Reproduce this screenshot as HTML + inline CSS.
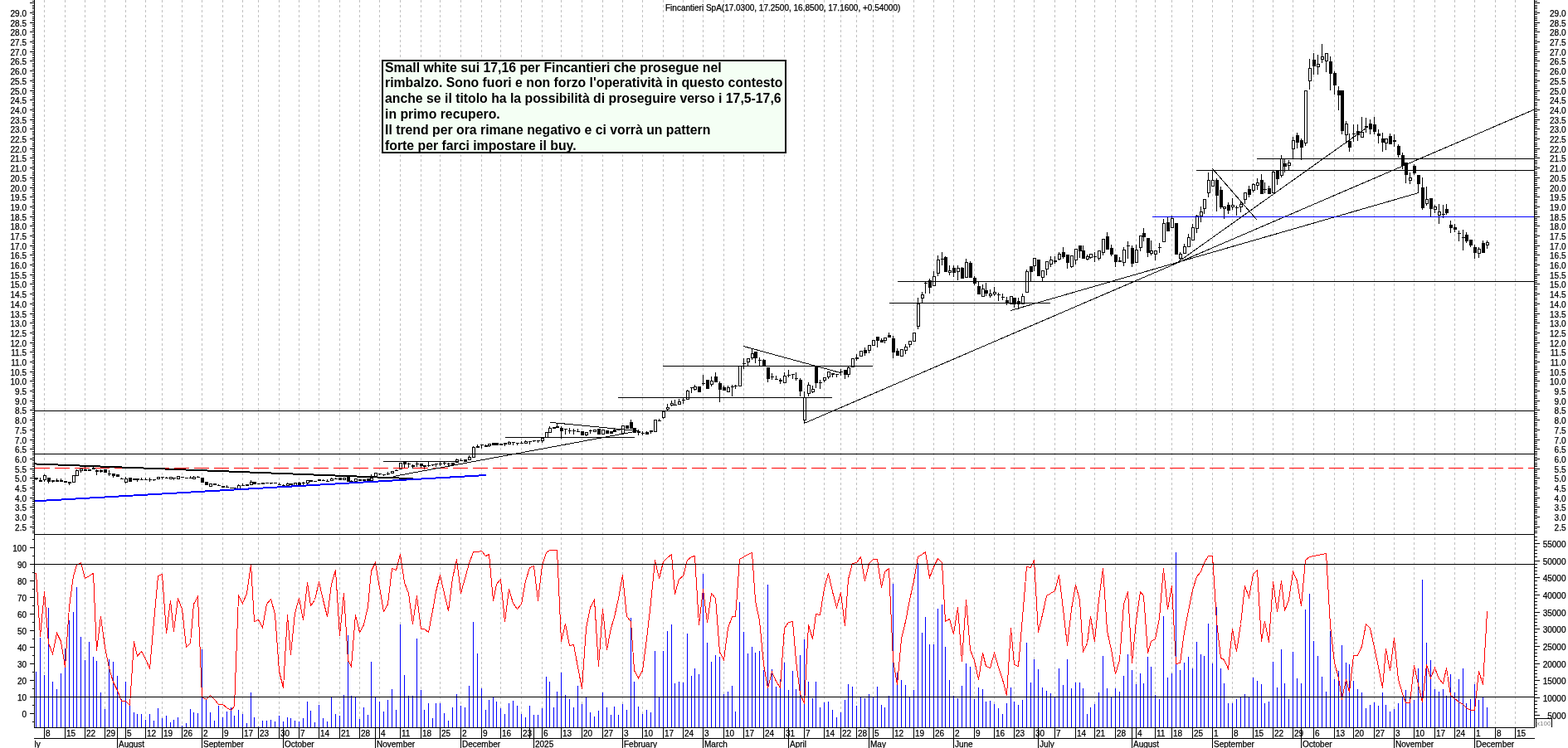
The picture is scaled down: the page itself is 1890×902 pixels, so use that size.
<!DOCTYPE html><html><head><meta charset="utf-8"><style>html,body{margin:0;padding:0;background:#fff;width:1890px;height:902px;overflow:hidden}</style></head><body>
<svg width="1890" height="902" viewBox="0 0 1890 902" shape-rendering="crispEdges" style="position:absolute;left:0;top:0">
<rect x="0" y="0" width="1890" height="902" fill="#fff"/>
<path d="M53.5 0V877M78.5 0V877M102.5 0V877M126.5 0V877M151.5 0V877M175.5 0V877M195.5 0V877M219.5 0V877M243.5 0V877M268.5 0V877M292.5 0V877M311.5 0V877M336.5 0V877M360.5 0V877M384.5 0V877M409.5 0V877M433.5 0V877M457.5 0V877M482.5 0V877M507.5 0V877M530.5 0V877M555.5 0V877M580.5 0V877M603.5 0V877M628.5 0V877M653.5 0V877M676.5 0V877M701.5 0V877M726.5 0V877M750.5 0V877M774.5 0V877M799.5 0V877M823.5 0V877M847.5 0V877M872.5 0V877M896.5 0V877M920.5 0V877M945.5 0V877M969.5 0V877M993.5 0V877M1013.5 0V877M1032.5 0V877M1052.5 0V877M1076.5 0V877M1101.5 0V877M1125.5 0V877M1149.5 0V877M1174.5 0V877M1198.5 0V877M1222.5 0V877M1246.5 0V877M1271.5 0V877M1296.5 0V877M1319.5 0V877M1344.5 0V877M1369.5 0V877M1392.5 0V877M1412.5 0V877M1437.5 0V877M1461.5 0V877M1485.5 0V877M1510.5 0V877M1534.5 0V877M1558.5 0V877M1583.5 0V877M1608.5 0V877M1631.5 0V877M1656.5 0V877M1680.5 0V877M1704.5 0V877M1729.5 0V877M1753.5 0V877M1777.5 0V877M1802.5 0V877M1826.5 0V877" stroke="#c0c0c0" stroke-width="1" stroke-dasharray="3 3" fill="none"/>
<text x="802" y="13" font-family="Liberation Sans, Arial, sans-serif" font-size="10" fill="#000" stroke="#000" stroke-width="0.25">Fincantieri SpA(17.0300, 17.2500, 16.8500, 17.1600, +0.54000)</text>
<g shape-rendering="crispEdges"><path d="M43.5 576V579M48.5 576V581M53.5 572V581M58.5 576V583M63.5 579V582M68.5 577V581M73.5 577V581M78.5 580V582M83.5 581V585M88.5 573V582M92.5 566V574M97.5 565V570M102.5 563V568M107.5 566V568M112.5 563V566M116.5 566V573M121.5 566V570M126.5 566V570M131.5 567V574M136.5 571V576M141.5 572V575M146.5 576V578M151.5 575V583M156.5 576V581M161.5 577V579M165.5 577V581M170.5 576V579M175.5 576V579M180.5 576V581M185.5 578V580M190.5 575V578M195.5 575V578M200.5 575V577M205.5 575V578M209.5 576V579M214.5 574V578M219.5 575V576M224.5 576V577M229.5 574V577M233.5 574V578M238.5 574V576M243.5 576V582M248.5 581V585M253.5 583V587M258.5 583V585M263.5 584V586M268.5 586V588M273.5 585V588M278.5 588V589M282.5 588V589M287.5 584V590M292.5 583V586M297.5 584V586M302.5 579V585M306.5 581V584M311.5 583V584M316.5 582V584M321.5 582V583M326.5 582V584M331.5 582V583M336.5 582V585M341.5 584V586M346.5 582V586M350.5 583V585M355.5 582V586M360.5 581V586M365.5 581V585M370.5 579V585M374.5 579V581M379.5 580V581M384.5 578V580M389.5 578V580M394.5 578V581M399.5 576V580M404.5 576V578M409.5 576V579M414.5 576V579M419.5 574V581M423.5 579V581M428.5 577V581M433.5 578V580M438.5 578V580M443.5 577V581M447.5 572V580M452.5 570V575M457.5 571V573M462.5 572V574M467.5 569V573M472.5 568V571M477.5 566V568M482.5 558V566M487.5 557V564M492.5 558V564M497.5 560V565M502.5 557V563M507.5 559V565M511.5 561V566M516.5 557V563M521.5 560V562M525.5 559V563M530.5 557V562M535.5 557V561M540.5 558V562M545.5 558V561M550.5 553V558M555.5 553V556M560.5 554V557M565.5 549V555M570.5 538V552M575.5 536V540M580.5 536V541M585.5 536V539M589.5 535V539M594.5 534V537M598.5 534V537M603.5 535V537M608.5 534V538M613.5 532V536M618.5 533V537M623.5 534V537M628.5 532V535M633.5 531V535M638.5 532V536M643.5 531V533M648.5 531V534M653.5 528V534M658.5 521V528M662.5 514V522M667.5 515V517M671.5 511V516M676.5 514V529M681.5 517V524M686.5 516V523M691.5 517V524M696.5 517V521M701.5 520V525M706.5 521V526M711.5 518V523M716.5 518V521M721.5 517V524M726.5 518V524M731.5 519V523M736.5 520V523M740.5 516V521M745.5 517V519M750.5 513V523M755.5 513V517M760.5 506V517M764.5 516V522M769.5 518V525M774.5 520V525M779.5 520V524M784.5 519V523M789.5 506V521M794.5 505V508M799.5 496V505M804.5 487V496M809.5 483V490M813.5 482V489M818.5 481V488M823.5 480V487M828.5 470V482M833.5 467V474M837.5 464V471M842.5 466V473M847.5 452V465M852.5 458V469M857.5 454V466M862.5 449V461M867.5 460V485M872.5 465V471M877.5 465V473M882.5 464V478M886.5 464V469M891.5 441V466M896.5 432V445M901.5 432V442M906.5 421V434M910.5 424V438M915.5 431V442M920.5 433V442M925.5 443V461M930.5 450V458M935.5 453V458M940.5 456V463M945.5 449V462M950.5 446V455M955.5 451V457M959.5 449V459M964.5 456V478M969.5 472V511M974.5 461V478M979.5 465V474M983.5 441V468M988.5 458V469M993.5 455V461M998.5 448V457M1003.5 450V455M1008.5 451V455M1013.5 445V453M1018.5 446V457M1022.5 442V455M1027.5 432V443M1032.5 427V435M1037.5 423V430M1042.5 419V429M1047.5 416V426M1052.5 410V417M1057.5 406V419M1062.5 408V413M1066.5 407V414M1071.5 401V407M1076.5 405V432M1081.5 420V429M1086.5 421V430M1091.5 415V427M1096.5 411V419M1101.5 401V412M1106.5 359V397M1111.5 352V365M1115.5 339V354M1120.5 336V354M1125.5 327V345M1130.5 308V333M1135.5 304V320M1139.5 309V328M1144.5 320V332M1149.5 320V334M1154.5 320V338M1159.5 322V336M1164.5 312V335M1169.5 315V335M1174.5 333V344M1179.5 340V355M1184.5 343V358M1188.5 341V357M1193.5 349V359M1198.5 346V357M1203.5 353V363M1208.5 354V362M1213.5 358V368M1218.5 357V367M1222.5 359V371M1227.5 359V373M1232.5 354V367M1237.5 325V353M1242.5 321V340M1246.5 311V327M1251.5 313V333M1256.5 326V340M1261.5 315V332M1266.5 309V322M1271.5 309V318M1276.5 304V314M1281.5 298V312M1286.5 307V324M1291.5 308V323M1296.5 300V319M1301.5 296V311M1305.5 296V312M1310.5 307V314M1314.5 306V312M1319.5 304V316M1324.5 302V314M1329.5 288V308M1334.5 280V301M1339.5 295V309M1344.5 307V322M1349.5 310V316M1354.5 298V321M1359.5 291V312M1364.5 296V322M1369.5 295V317M1374.5 284V303M1378.5 275V291M1383.5 287V310M1387.5 290V308M1392.5 302V314M1397.5 293V305M1402.5 264V292M1407.5 261V279M1412.5 260V275M1417.5 269V307M1422.5 304V316M1427.5 294V306M1432.5 282V298M1437.5 270V290M1442.5 259V281M1447.5 249V268M1451.5 240V258M1456.5 208V238M1461.5 206V225M1466.5 215V255M1471.5 225V252M1475.5 249V264M1480.5 244V258M1485.5 239V253M1490.5 248V260M1495.5 242V256M1500.5 232V246M1505.5 224V238M1510.5 221V232M1515.5 215V229M1520.5 210V234M1524.5 220V233M1529.5 224V234M1534.5 206V233M1539.5 206V223M1544.5 187V214M1548.5 191V208M1553.5 193V206M1558.5 165V192M1563.5 160V179M1568.5 167V193M1573.5 109V176M1578.5 71V108M1583.5 64V90M1588.5 66V90M1593.5 53V76M1598.5 64V87M1603.5 68V109M1608.5 86V114M1613.5 104V133M1617.5 109V162M1622.5 146V173M1626.5 161V183M1631.5 150V171M1636.5 150V170M1641.5 141V166M1646.5 142V160M1651.5 144V162M1656.5 141V162M1661.5 156V173M1666.5 160V183M1670.5 167V181M1675.5 161V174M1680.5 162V177M1685.5 174V190M1690.5 184V204M1694.5 196V221M1699.5 208V222M1704.5 198V211M1709.5 211V233M1714.5 214V253M1719.5 225V248M1724.5 239V262M1729.5 247V257M1734.5 246V270M1739.5 247V263M1743.5 246V259M1748.5 266V281M1753.5 270V280M1758.5 278V291M1763.5 277V302M1767.5 280V293M1772.5 289V298M1777.5 295V312M1782.5 298V311M1787.5 290V305M1792.5 290V300" stroke="#000" stroke-width="1" fill="none"/><path d="M42 576H46V578H42ZM47 579H51V581H47ZM57 576H61V581H57ZM62 579H66V581H62ZM67 579H71V581H67ZM72 579H76V581H72ZM77 580H81V582H77ZM82 581H86V583H82ZM101 566H105V568H101ZM106 566H110V568H106ZM111 564H115V566H111ZM115 567H119V569H115ZM120 567H124V569H120ZM125 566H129V570H125ZM130 571H134V572H130ZM135 571H139V574H135ZM140 572H144V575H140ZM145 577H149V578H145ZM155 576H159V581H155ZM160 577H164V579H160ZM164 577H168V579H164ZM169 578H173V579H169ZM174 578H178V579H174ZM179 578H183V579H179ZM184 578H188V579H184ZM194 575H198V576H194ZM199 576H203V577H199ZM208 576H212V577H208ZM218 575H222V576H218ZM223 576H227V577H223ZM228 576H232V577H228ZM237 575H241V576H237ZM242 576H246V582H242ZM247 581H251V585H247ZM257 583H261V585H257ZM262 585H266V586H262ZM267 586H271V588H267ZM272 587H276V588H272ZM277 588H281V589H277ZM281 588H285V589H281ZM291 585H295V586H291ZM296 584H300V586H296ZM305 581H309V584H305ZM310 583H314V584H310ZM315 582H319V584H315ZM320 582H324V583H320ZM325 582H329V583H325ZM330 582H334V583H330ZM335 584H339V585H335ZM340 585H344V586H340ZM349 583H353V585H349ZM359 582H363V585H359ZM364 582H368V583H364ZM373 579H377V581H373ZM378 580H382V581H378ZM383 578H387V580H383ZM388 579H392V580H388ZM393 580H397V581H393ZM403 577H407V578H403ZM408 576H412V579H408ZM418 574H422V581H418ZM422 580H426V581H422ZM432 578H436V580H432ZM437 578H441V580H437ZM442 577H446V580H442ZM456 571H460V572H456ZM461 572H465V573H461ZM466 571H470V572H466ZM476 567H480V568H476ZM486 557H490V560H486ZM491 559H495V560H491ZM496 561H500V563H496ZM501 559H505V560H501ZM506 559H510V562H506ZM510 561H514V563H510ZM515 561H519V562H515ZM520 560H524V561H520ZM524 559H528V560H524ZM529 559H533V560H529ZM534 558H538V559H534ZM539 559H543V560H539ZM544 558H548V561H544ZM554 555H558V556H554ZM559 554H563V557H559ZM574 538H578V540H574ZM579 536H583V537H579ZM584 537H588V539H584ZM593 534H597V537H593ZM597 534H601V537H597ZM602 535H606V537H602ZM607 534H611V536H607ZM617 533H621V534H617ZM622 534H626V535H622ZM627 534H631V535H627ZM637 532H641V533H637ZM642 531H646V532H642ZM647 531H651V532H647ZM666 515H670V517H666ZM670 514H674V516H670ZM675 516H679V520H675ZM680 517H684V518H680ZM685 519H689V520H685ZM690 519H694V520H690ZM695 520H699V521H695ZM700 520H704V525H700ZM710 519H714V520H710ZM720 517H724V524H720ZM730 519H734V523H730ZM735 520H739V523H735ZM739 518H743V521H739ZM744 518H748V519H744ZM754 513H758V517H754ZM759 509H763V517H759ZM763 516H767V522H763ZM768 520H772V522H768ZM773 522H777V523H773ZM778 521H782V524H778ZM783 519H787V521H783ZM793 507H797V508H793ZM812 488H816V489H812ZM822 482H826V483H822ZM832 467H836V468H832ZM841 466H845V473H841ZM846 462H850V463H846ZM851 458H855V469H851ZM861 454H865V461H861ZM866 462H870V470H866ZM871 467H875V471H871ZM881 466H885V467H881ZM885 465H889V466H885ZM895 438H899V439H895ZM909 424H913V432H909ZM914 434H918V435H914ZM919 434H923V442H919ZM924 443H928V457H924ZM929 454H933V455H929ZM934 457H938V458H934ZM939 458H943V460H939ZM949 452H953V453H949ZM954 451H958V452H954ZM958 456H962V457H958ZM963 458H967V472H963ZM982 441H986V462H982ZM987 461H991V462H987ZM1002 450H1006V452H1002ZM1007 451H1011V452H1007ZM1012 448H1016V449H1012ZM1017 446H1021V452H1017ZM1031 431H1035V433H1031ZM1041 422H1045V426H1041ZM1056 406H1060V411H1056ZM1061 410H1065V413H1061ZM1070 404H1074V407H1070ZM1075 408H1079V425H1075ZM1080 423H1084V429H1080ZM1114 341H1118V342H1114ZM1119 338H1123V347H1119ZM1134 312H1138V313H1134ZM1138 310H1142V328H1138ZM1148 323H1152V329H1148ZM1158 323H1162V336H1158ZM1168 317H1172V335H1168ZM1173 335H1177V342H1173ZM1178 345H1182V355H1178ZM1187 350H1191V354H1187ZM1202 355H1206V356H1202ZM1207 358H1211V359H1207ZM1212 362H1216V365H1212ZM1221 359H1225V367H1221ZM1226 363H1230V367H1226ZM1241 321H1245V328H1241ZM1250 313H1254V333H1250ZM1270 314H1274V316H1270ZM1280 304H1284V310H1280ZM1285 307H1289V317H1285ZM1300 296H1304V303H1300ZM1304 302H1308V312H1304ZM1318 309H1322V310H1318ZM1333 285H1337V301H1333ZM1338 299H1342V307H1338ZM1343 307H1347V316H1343ZM1348 314H1352V316H1348ZM1358 296H1362V297H1358ZM1363 299H1367V318H1363ZM1377 281H1381V286H1377ZM1382 287H1386V305H1382ZM1396 298H1400V299H1396ZM1406 268H1410V279H1406ZM1416 269H1420V307H1416ZM1465 217H1469V236H1465ZM1470 229H1474V250H1470ZM1479 247H1483V254H1479ZM1489 250H1493V251H1489ZM1504 228H1508V235H1504ZM1519 217H1523V234H1519ZM1523 228H1527V229H1523ZM1528 227H1532V234H1528ZM1538 206H1542V216H1538ZM1547 197H1551V201H1547ZM1562 163H1566V172H1562ZM1567 169H1571V178H1567ZM1582 72H1586V80H1582ZM1602 74H1606V89H1602ZM1607 88H1611V103H1607ZM1612 109H1616V115H1612ZM1616 109H1620V158H1616ZM1625 170H1629V178H1625ZM1630 161H1634V162H1630ZM1635 158H1639V163H1635ZM1645 152H1649V154H1645ZM1650 149H1654V156H1650ZM1655 150H1659V159H1655ZM1660 161H1664V164H1660ZM1665 167H1669V172H1665ZM1674 164H1678V174H1674ZM1679 169H1683V171H1679ZM1684 176H1688V187H1684ZM1689 187H1693V200H1689ZM1693 196H1697V211H1693ZM1703 200H1707V209H1703ZM1708 211H1712V222H1708ZM1713 226H1717V251H1713ZM1723 239H1727V252H1723ZM1738 258H1742V259H1738ZM1742 252H1746V257H1742ZM1747 271H1751V275H1747ZM1752 274H1756V277H1752ZM1757 281H1761V282H1757ZM1762 286H1766V287H1762ZM1766 283H1770V291H1766ZM1771 289H1775V296H1771ZM1776 298H1780V305H1776ZM1786 293H1790V305H1786Z" fill="#000"/><g fill="#fff" stroke="#000" stroke-width="1"><rect x="52.5" y="573.5" width="3" height="5"/><rect x="87.5" y="573.5" width="3" height="8"/><rect x="91.5" y="567.5" width="3" height="6"/><rect x="96.5" y="565.5" width="3" height="2"/><rect x="150.5" y="577.5" width="3" height="4"/><rect x="189.5" y="575.5" width="3" height="2"/><rect x="204.5" y="575.5" width="3" height="2"/><rect x="213.5" y="574.5" width="3" height="3"/><rect x="232.5" y="575.5" width="3" height="2"/><rect x="252.5" y="583.5" width="3" height="3"/><rect x="286.5" y="585.5" width="3" height="4"/><rect x="301.5" y="581.5" width="3" height="3"/><rect x="345.5" y="583.5" width="3" height="2"/><rect x="354.5" y="582.5" width="3" height="3"/><rect x="369.5" y="579.5" width="3" height="3"/><rect x="398.5" y="577.5" width="3" height="2"/><rect x="413.5" y="576.5" width="3" height="2"/><rect x="427.5" y="577.5" width="3" height="3"/><rect x="446.5" y="576.5" width="3" height="3"/><rect x="451.5" y="570.5" width="3" height="4"/><rect x="471.5" y="568.5" width="3" height="2"/><rect x="481.5" y="558.5" width="3" height="7"/><rect x="549.5" y="554.5" width="3" height="3"/><rect x="564.5" y="551.5" width="3" height="3"/><rect x="569.5" y="539.5" width="3" height="12"/><rect x="588.5" y="535.5" width="3" height="2"/><rect x="612.5" y="533.5" width="3" height="2"/><rect x="632.5" y="532.5" width="3" height="2"/><rect x="652.5" y="528.5" width="3" height="3"/><rect x="657.5" y="521.5" width="3" height="6"/><rect x="661.5" y="516.5" width="3" height="5"/><rect x="705.5" y="521.5" width="3" height="3"/><rect x="715.5" y="518.5" width="3" height="2"/><rect x="725.5" y="518.5" width="3" height="5"/><rect x="749.5" y="513.5" width="3" height="9"/><rect x="788.5" y="506.5" width="3" height="14"/><rect x="798.5" y="496.5" width="3" height="7"/><rect x="803.5" y="491.5" width="3" height="2"/><rect x="808.5" y="486.5" width="3" height="2"/><rect x="817.5" y="484.5" width="3" height="3"/><rect x="827.5" y="471.5" width="3" height="10"/><rect x="836.5" y="466.5" width="3" height="3"/><rect x="856.5" y="459.5" width="3" height="4"/><rect x="876.5" y="467.5" width="3" height="5"/><rect x="890.5" y="441.5" width="3" height="24"/><rect x="900.5" y="432.5" width="3" height="4"/><rect x="905.5" y="426.5" width="3" height="5"/><rect x="944.5" y="453.5" width="3" height="8"/><rect x="968.5" y="479.5" width="3" height="27"/><rect x="973.5" y="464.5" width="3" height="10"/><rect x="978.5" y="469.5" width="3" height="3"/><rect x="992.5" y="455.5" width="3" height="3"/><rect x="997.5" y="448.5" width="3" height="6"/><rect x="1021.5" y="443.5" width="3" height="8"/><rect x="1026.5" y="432.5" width="3" height="10"/><rect x="1036.5" y="423.5" width="3" height="6"/><rect x="1046.5" y="416.5" width="3" height="6"/><rect x="1051.5" y="410.5" width="3" height="6"/><rect x="1065.5" y="407.5" width="3" height="3"/><rect x="1085.5" y="421.5" width="3" height="8"/><rect x="1090.5" y="418.5" width="3" height="4"/><rect x="1095.5" y="411.5" width="3" height="4"/><rect x="1100.5" y="401.5" width="3" height="10"/><rect x="1105.5" y="366.5" width="3" height="27"/><rect x="1110.5" y="355.5" width="3" height="4"/><rect x="1124.5" y="333.5" width="3" height="11"/><rect x="1129.5" y="313.5" width="3" height="16"/><rect x="1143.5" y="326.5" width="3" height="2"/><rect x="1153.5" y="323.5" width="3" height="4"/><rect x="1163.5" y="316.5" width="3" height="18"/><rect x="1183.5" y="348.5" width="3" height="9"/><rect x="1192.5" y="354.5" width="3" height="2"/><rect x="1197.5" y="352.5" width="3" height="2"/><rect x="1217.5" y="357.5" width="3" height="9"/><rect x="1231.5" y="357.5" width="3" height="9"/><rect x="1236.5" y="327.5" width="3" height="25"/><rect x="1245.5" y="311.5" width="3" height="9"/><rect x="1255.5" y="326.5" width="3" height="8"/><rect x="1260.5" y="315.5" width="3" height="9"/><rect x="1265.5" y="313.5" width="3" height="5"/><rect x="1275.5" y="306.5" width="3" height="6"/><rect x="1290.5" y="308.5" width="3" height="13"/><rect x="1295.5" y="300.5" width="3" height="13"/><rect x="1309.5" y="309.5" width="3" height="3"/><rect x="1313.5" y="306.5" width="3" height="4"/><rect x="1323.5" y="302.5" width="3" height="9"/><rect x="1328.5" y="288.5" width="3" height="16"/><rect x="1353.5" y="301.5" width="3" height="15"/><rect x="1368.5" y="301.5" width="3" height="15"/><rect x="1373.5" y="284.5" width="3" height="14"/><rect x="1386.5" y="302.5" width="3" height="3"/><rect x="1391.5" y="302.5" width="3" height="4"/><rect x="1401.5" y="269.5" width="3" height="22"/><rect x="1411.5" y="263.5" width="3" height="11"/><rect x="1421.5" y="306.5" width="3" height="5"/><rect x="1426.5" y="297.5" width="3" height="8"/><rect x="1431.5" y="286.5" width="3" height="11"/><rect x="1436.5" y="274.5" width="3" height="15"/><rect x="1441.5" y="260.5" width="3" height="15"/><rect x="1446.5" y="255.5" width="3" height="5"/><rect x="1450.5" y="240.5" width="3" height="11"/><rect x="1455.5" y="217.5" width="3" height="15"/><rect x="1460.5" y="217.5" width="3" height="7"/><rect x="1474.5" y="249.5" width="3" height="2"/><rect x="1484.5" y="247.5" width="3" height="2"/><rect x="1494.5" y="246.5" width="3" height="3"/><rect x="1499.5" y="232.5" width="3" height="8"/><rect x="1509.5" y="222.5" width="3" height="7"/><rect x="1514.5" y="220.5" width="3" height="3"/><rect x="1533.5" y="207.5" width="3" height="25"/><rect x="1543.5" y="191.5" width="3" height="20"/><rect x="1552.5" y="196.5" width="3" height="3"/><rect x="1557.5" y="169.5" width="3" height="10"/><rect x="1572.5" y="109.5" width="3" height="63"/><rect x="1577.5" y="82.5" width="3" height="15"/><rect x="1587.5" y="77.5" width="3" height="3"/><rect x="1592.5" y="68.5" width="3" height="3"/><rect x="1597.5" y="64.5" width="3" height="9"/><rect x="1621.5" y="149.5" width="3" height="13"/><rect x="1640.5" y="159.5" width="3" height="6"/><rect x="1669.5" y="167.5" width="3" height="5"/><rect x="1698.5" y="214.5" width="3" height="3"/><rect x="1718.5" y="240.5" width="3" height="5"/><rect x="1728.5" y="249.5" width="3" height="3"/><rect x="1733.5" y="255.5" width="3" height="4"/><rect x="1781.5" y="300.5" width="3" height="5"/><rect x="1791.5" y="292.5" width="3" height="3"/></g></g>
<g shape-rendering="crispEdges"><line x1="41" y1="495.5" x2="1849" y2="495.5" stroke="#000" stroke-width="1"/><line x1="41" y1="547.5" x2="1849" y2="547.5" stroke="#000" stroke-width="1"/><line x1="42" y1="564.5" x2="1849" y2="564.5" stroke="#ff0000" stroke-width="1" stroke-dasharray="18 6"/><line x1="41" y1="559.38" x2="498" y2="577.16" stroke="#000" stroke-width="2"/><line x1="41" y1="604.39" x2="586" y2="573.01" stroke="#0000ff" stroke-width="2"/><line x1="462" y1="556.5" x2="552" y2="556.5" stroke="#000" stroke-width="1"/><line x1="473.7" y1="574.6" x2="765" y2="520.5" stroke="#000" stroke-width="1"/><line x1="609" y1="527.5" x2="765" y2="527.5" stroke="#000" stroke-width="1"/><line x1="663" y1="509.3" x2="769" y2="519.6" stroke="#000" stroke-width="1"/><line x1="745" y1="479.5" x2="1003" y2="479.5" stroke="#000" stroke-width="1"/><line x1="799" y1="441.5" x2="1052" y2="441.5" stroke="#000" stroke-width="1"/><line x1="896" y1="417.5" x2="1013" y2="449.5" stroke="#000" stroke-width="1"/><line x1="969.5" y1="510.4" x2="1849" y2="132.2" stroke="#000" stroke-width="1"/><line x1="1082" y1="339.5" x2="1849" y2="339.5" stroke="#000" stroke-width="1"/><line x1="1072" y1="365.5" x2="1266" y2="365.5" stroke="#000" stroke-width="1"/><line x1="1218" y1="374.5" x2="1709.6" y2="232.6" stroke="#000" stroke-width="1"/><line x1="1389" y1="261.5" x2="1849" y2="261.5" stroke="#0000ff" stroke-width="1"/><line x1="1442" y1="205.5" x2="1849" y2="205.5" stroke="#000" stroke-width="1"/><line x1="1515" y1="191.5" x2="1849" y2="191.5" stroke="#000" stroke-width="1"/><line x1="1461.4" y1="203.3" x2="1514.6" y2="264.7" stroke="#000" stroke-width="1"/><line x1="1420" y1="316" x2="1646" y2="155" stroke="#000" stroke-width="1"/></g>
<path d="M43.5 810V877M48.5 769V877M53.5 814V877M58.5 733V877M63.5 822V877M68.5 831V877M73.5 812V877M78.5 782V877M83.5 748V877M88.5 738V877M92.5 708V877M97.5 768V877M102.5 796V877M107.5 774V877M112.5 792V877M116.5 797V877M121.5 835V877M126.5 855V877M131.5 795V877M136.5 798V877M141.5 815V877M146.5 843V877M151.5 822V877M156.5 851V877M161.5 859V877M165.5 861V877M170.5 861V877M175.5 868V877M180.5 861V877M185.5 869V877M190.5 854V877M195.5 866V877M200.5 863V877M205.5 871V877M209.5 868V877M214.5 865V877M219.5 875V877M224.5 872V877M229.5 855V877M233.5 859V877M238.5 860V877M243.5 783V877M248.5 843V877M253.5 859V877M258.5 869V877M263.5 851V877M268.5 865V877M273.5 858V877M278.5 853V877M282.5 863V877M287.5 856V877M292.5 861V877M297.5 872V877M302.5 835V877M306.5 865V877M311.5 876V877M316.5 869V877M321.5 869V877M326.5 868V877M331.5 870V877M336.5 863V877M341.5 870V877M346.5 865V877M350.5 866V877M355.5 869V877M360.5 870V877M365.5 866V877M370.5 846V877M374.5 857V877M379.5 871V877M384.5 850V877M389.5 866V877M394.5 870V877M399.5 841V877M404.5 861V877M409.5 863V877M414.5 838V877M419.5 766V877M423.5 839V877M428.5 841V877M433.5 867V877M438.5 853V877M443.5 862V877M447.5 798V877M452.5 840V877M457.5 846V877M462.5 858V877M467.5 844V877M472.5 831V877M477.5 856V877M482.5 753V877M487.5 814V877M492.5 839V877M497.5 839V877M502.5 770V877M507.5 832V877M511.5 856V877M516.5 848V877M521.5 866V877M525.5 848V877M530.5 848V877M535.5 860V877M540.5 869V877M545.5 853V877M550.5 837V877M555.5 851V877M560.5 853V877M565.5 827V877M570.5 750V877M575.5 788V877M580.5 830V877M585.5 856V877M589.5 844V877M594.5 841V877M598.5 846V877M603.5 854V877M608.5 861V877M613.5 848V877M618.5 845V877M623.5 851V877M628.5 861V877M633.5 865V877M638.5 851V877M643.5 862V877M648.5 862V877M653.5 854V877M658.5 816V877M662.5 822V877M667.5 853V877M671.5 834V877M676.5 811V877M681.5 838V877M686.5 843V877M691.5 853V877M696.5 827V877M701.5 849V877M706.5 840V877M711.5 859V877M716.5 864V877M721.5 857V877M726.5 835V877M731.5 853V877M736.5 862V877M740.5 852V877M745.5 862V877M750.5 849V877M755.5 856V877M760.5 745V877M764.5 822V877M769.5 852V877M774.5 861V877M779.5 856V877M784.5 859V877M789.5 785V877M794.5 840V877M799.5 785V877M804.5 761V877M809.5 753V877M813.5 824V877M818.5 822V877M823.5 823V877M828.5 764V877M833.5 815V877M837.5 806V877M842.5 813V877M847.5 692V877M852.5 775V877M857.5 798V877M862.5 790V877M867.5 792V877M872.5 837V877M877.5 834V877M882.5 827V877M886.5 858V877M891.5 726V877M896.5 762V877M901.5 788V877M906.5 780V877M910.5 787V877M915.5 785V877M920.5 808V877M925.5 705V877M930.5 807V877M935.5 828V877M940.5 819V877M945.5 799V877M950.5 832V877M955.5 809V877M959.5 831V877M964.5 790V877M969.5 771V877M974.5 822V877M979.5 842V877M983.5 822V877M988.5 853V877M993.5 847V877M998.5 846V877M1003.5 856V877M1008.5 865V877M1013.5 859V877M1018.5 844V877M1022.5 825V877M1027.5 828V877M1032.5 851V877M1037.5 841V877M1042.5 842V877M1047.5 837V877M1052.5 840V877M1057.5 828V877M1062.5 850V877M1066.5 853V877M1071.5 839V877M1076.5 704V877M1081.5 811V877M1086.5 820V877M1091.5 826V877M1096.5 840V877M1101.5 832V877M1106.5 679V877M1111.5 763V877M1115.5 744V877M1120.5 777V877M1125.5 777V877M1130.5 734V877M1135.5 729V877M1139.5 780V877M1144.5 820V877M1149.5 839V877M1154.5 842V877M1159.5 827V877M1164.5 800V877M1169.5 804V877M1174.5 843V877M1179.5 829V877M1184.5 831V877M1188.5 846V877M1193.5 845V877M1198.5 849V877M1203.5 854V877M1208.5 861V877M1213.5 848V877M1218.5 829V877M1222.5 846V877M1227.5 850V877M1232.5 844V877M1237.5 775V877M1242.5 823V877M1246.5 795V877M1251.5 807V877M1256.5 829V877M1261.5 833V877M1266.5 836V877M1271.5 840V877M1276.5 806V877M1281.5 826V877M1286.5 795V877M1291.5 830V877M1296.5 823V877M1301.5 823V877M1305.5 830V877M1310.5 861V877M1314.5 853V877M1319.5 849V877M1324.5 835V877M1329.5 791V877M1334.5 830V877M1339.5 840V877M1344.5 830V877M1349.5 834V877M1354.5 815V877M1359.5 789V877M1364.5 808V877M1369.5 825V877M1374.5 812V877M1378.5 824V877M1383.5 792V877M1387.5 804V877M1392.5 838V877M1397.5 843V877M1402.5 743V877M1407.5 817V877M1412.5 812V877M1417.5 666V877M1422.5 808V877M1427.5 799V877M1432.5 792V877M1437.5 806V877M1442.5 774V877M1447.5 789V877M1451.5 791V877M1456.5 752V877M1461.5 800V877M1466.5 732V877M1471.5 806V877M1475.5 824V877M1480.5 848V877M1485.5 848V877M1490.5 843V877M1495.5 841V877M1500.5 837V877M1505.5 841V877M1510.5 817V877M1515.5 821V877M1520.5 825V877M1524.5 848V877M1529.5 846V877M1534.5 798V877M1539.5 829V877M1544.5 783V877M1548.5 824V877M1553.5 843V877M1558.5 786V877M1563.5 818V877M1568.5 824V877M1573.5 735V877M1578.5 716V877M1583.5 773V877M1588.5 791V877M1593.5 816V877M1598.5 834V877M1603.5 761V877M1608.5 819V877M1613.5 809V877M1617.5 778V877M1622.5 799V877M1626.5 801V877M1631.5 821V877M1636.5 831V877M1641.5 835V877M1646.5 854V877M1651.5 850V877M1656.5 847V877M1661.5 851V877M1666.5 835V877M1670.5 850V877M1675.5 858V877M1680.5 855V877M1685.5 848V877M1690.5 840V877M1694.5 832V877M1699.5 840V877M1704.5 844V877M1709.5 806V877M1714.5 699V877M1719.5 775V877M1724.5 796V877M1729.5 831V877M1734.5 834V877M1739.5 831V877M1743.5 839V877M1748.5 813V877M1753.5 835V877M1758.5 819V877M1763.5 806V877M1767.5 848V877M1772.5 843V877M1777.5 825V877M1782.5 844V877M1787.5 840V877M1792.5 853V877" stroke="#0000ff" stroke-width="1" fill="none" shape-rendering="crispEdges"/>
<defs><clipPath id="bc"><rect x="42" y="645" width="1807" height="232"/></clipPath></defs><polyline clip-path="url(#bc)" points="38.5,691.5 43.5,691.5 48.5,767.5 53.5,713.5 58.5,775.5 63.5,788.5 68.5,763.5 73.5,773.5 78.5,804.5 83.5,731.5 88.5,694.5 92.5,681.5 97.5,678.5 102.5,697.5 107.5,694.5 112.5,691.5 116.5,784.5 121.5,743.5 126.5,780.5 131.5,805.5 136.5,822.5 141.5,832.5 146.5,845.5 151.5,845.5 156.5,850.5 161.5,773.5 165.5,791.5 170.5,785.5 175.5,794.5 180.5,806.5 185.5,749.5 190.5,694.5 195.5,692.5 200.5,763.5 205.5,724.5 209.5,761.5 214.5,721.5 219.5,734.5 224.5,780.5 229.5,775.5 233.5,728.5 238.5,719.5 243.5,840.5 248.5,843.5 253.5,838.5 258.5,843.5 263.5,849.5 268.5,849.5 273.5,853.5 278.5,856.5 282.5,851.5 287.5,718.5 292.5,727.5 297.5,715.5 302.5,680.5 306.5,749.5 311.5,747.5 316.5,756.5 321.5,728.5 326.5,722.5 331.5,740.5 336.5,809.5 341.5,829.5 346.5,741.5 350.5,789.5 355.5,739.5 360.5,721.5 365.5,747.5 370.5,702.5 374.5,730.5 379.5,723.5 384.5,701.5 389.5,723.5 394.5,743.5 399.5,704.5 404.5,687.5 409.5,766.5 414.5,715.5 419.5,796.5 423.5,803.5 428.5,741.5 433.5,762.5 438.5,753.5 443.5,731.5 447.5,688.5 452.5,678.5 457.5,708.5 462.5,737.5 467.5,728.5 472.5,685.5 477.5,687.5 482.5,668.5 487.5,702.5 492.5,715.5 497.5,752.5 502.5,718.5 507.5,758.5 511.5,758.5 516.5,762.5 521.5,736.5 525.5,713.5 530.5,693.5 535.5,715.5 540.5,736.5 545.5,697.5 550.5,674.5 555.5,715.5 560.5,697.5 565.5,679.5 570.5,665.5 575.5,665.5 580.5,664.5 585.5,670.5 589.5,668.5 594.5,724.5 598.5,704.5 603.5,698.5 608.5,749.5 613.5,710.5 618.5,727.5 623.5,734.5 628.5,728.5 633.5,700.5 638.5,684.5 643.5,682.5 648.5,724.5 653.5,681.5 658.5,666.5 662.5,663.5 667.5,663.5 671.5,663.5 676.5,773.5 681.5,752.5 686.5,778.5 691.5,777.5 696.5,804.5 701.5,830.5 706.5,757.5 711.5,732.5 716.5,723.5 721.5,803.5 726.5,734.5 731.5,783.5 736.5,757.5 740.5,744.5 745.5,721.5 750.5,693.5 755.5,743.5 760.5,749.5 764.5,808.5 769.5,817.5 774.5,808.5 779.5,770.5 784.5,726.5 789.5,675.5 794.5,697.5 799.5,677.5 804.5,672.5 809.5,668.5 813.5,716.5 818.5,698.5 823.5,694.5 828.5,675.5 833.5,671.5 837.5,670.5 842.5,753.5 847.5,710.5 852.5,750.5 857.5,715.5 862.5,721.5 867.5,786.5 872.5,795.5 877.5,757.5 882.5,743.5 886.5,743.5 891.5,674.5 896.5,671.5 901.5,668.5 906.5,666.5 910.5,724.5 915.5,748.5 920.5,801.5 925.5,829.5 930.5,810.5 935.5,821.5 940.5,829.5 945.5,757.5 950.5,750.5 955.5,749.5 959.5,796.5 964.5,836.5 969.5,848.5 974.5,753.5 979.5,770.5 983.5,740.5 988.5,741.5 993.5,709.5 998.5,691.5 1003.5,713.5 1008.5,732.5 1013.5,714.5 1018.5,754.5 1022.5,698.5 1027.5,679.5 1032.5,678.5 1037.5,671.5 1042.5,700.5 1047.5,679.5 1052.5,674.5 1057.5,674.5 1062.5,708.5 1066.5,689.5 1071.5,685.5 1076.5,795.5 1081.5,825.5 1086.5,770.5 1091.5,749.5 1096.5,723.5 1101.5,700.5 1106.5,671.5 1111.5,668.5 1115.5,665.5 1120.5,696.5 1125.5,683.5 1130.5,673.5 1135.5,678.5 1139.5,749.5 1144.5,746.5 1149.5,764.5 1154.5,732.5 1159.5,797.5 1164.5,723.5 1169.5,783.5 1174.5,796.5 1179.5,819.5 1184.5,787.5 1188.5,803.5 1193.5,805.5 1198.5,787.5 1203.5,804.5 1208.5,819.5 1213.5,838.5 1218.5,757.5 1222.5,801.5 1227.5,803.5 1232.5,744.5 1237.5,683.5 1242.5,684.5 1246.5,675.5 1251.5,762.5 1256.5,741.5 1261.5,718.5 1266.5,715.5 1271.5,712.5 1276.5,693.5 1281.5,734.5 1286.5,778.5 1291.5,734.5 1296.5,705.5 1301.5,723.5 1305.5,786.5 1310.5,775.5 1314.5,743.5 1319.5,773.5 1324.5,723.5 1329.5,685.5 1334.5,760.5 1339.5,783.5 1344.5,812.5 1349.5,796.5 1354.5,728.5 1359.5,713.5 1364.5,799.5 1369.5,748.5 1374.5,713.5 1378.5,718.5 1383.5,787.5 1387.5,773.5 1392.5,770.5 1397.5,745.5 1402.5,685.5 1407.5,734.5 1412.5,706.5 1417.5,800.5 1422.5,799.5 1427.5,762.5 1432.5,736.5 1437.5,711.5 1442.5,695.5 1447.5,689.5 1451.5,678.5 1456.5,670.5 1461.5,670.5 1466.5,749.5 1471.5,793.5 1475.5,795.5 1480.5,806.5 1485.5,758.5 1490.5,785.5 1495.5,752.5 1500.5,706.5 1505.5,720.5 1510.5,692.5 1515.5,687.5 1520.5,773.5 1524.5,749.5 1529.5,774.5 1534.5,701.5 1539.5,737.5 1544.5,700.5 1548.5,736.5 1553.5,723.5 1558.5,689.5 1563.5,700.5 1568.5,730.5 1573.5,675.5 1578.5,671.5 1583.5,670.5 1588.5,669.5 1593.5,668.5 1598.5,667.5 1603.5,754.5 1608.5,799.5 1613.5,817.5 1617.5,843.5 1622.5,819.5 1626.5,834.5 1631.5,790.5 1636.5,790.5 1641.5,779.5 1646.5,752.5 1651.5,757.5 1656.5,780.5 1661.5,804.5 1666.5,829.5 1670.5,782.5 1675.5,808.5 1680.5,769.5 1685.5,819.5 1690.5,836.5 1694.5,847.5 1699.5,847.5 1704.5,802.5 1709.5,825.5 1714.5,846.5 1719.5,801.5 1724.5,817.5 1729.5,805.5 1734.5,818.5 1739.5,824.5 1743.5,805.5 1748.5,838.5 1753.5,842.5 1758.5,846.5 1763.5,849.5 1767.5,853.5 1772.5,856.5 1777.5,856.5 1782.5,809.5 1787.5,825.5 1792.5,737.5" stroke="#ff0000" stroke-width="1" fill="none" shape-rendering="crispEdges"/>
<path d="M41.5 0V878M1849.5 0V878M41 644.5H1850M41 877.5H1850M41 890.5H1850M41 680.5H1849M41 840.5H1849M39 642.5H42M1849 642.5H1853M39 640.5H42M1849 640.5H1853M39 637.5H42M1849 637.5H1853M36 635.5H42M1849 635.5H1856M39 632.5H42M1849 632.5H1853M39 630.5H42M1849 630.5H1853M39 628.5H42M1849 628.5H1853M39 625.5H42M1849 625.5H1853M36 623.5H42M1849 623.5H1856M39 621.5H42M1849 621.5H1853M39 618.5H42M1849 618.5H1853M39 616.5H42M1849 616.5H1853M39 614.5H42M1849 614.5H1853M36 611.5H42M1849 611.5H1856M39 609.5H42M1849 609.5H1853M39 607.5H42M1849 607.5H1853M39 604.5H42M1849 604.5H1853M39 602.5H42M1849 602.5H1853M36 600.5H42M1849 600.5H1856M39 597.5H42M1849 597.5H1853M39 595.5H42M1849 595.5H1853M39 593.5H42M1849 593.5H1853M39 590.5H42M1849 590.5H1853M36 588.5H42M1849 588.5H1856M39 586.5H42M1849 586.5H1853M39 583.5H42M1849 583.5H1853M39 581.5H42M1849 581.5H1853M39 579.5H42M1849 579.5H1853M36 576.5H42M1849 576.5H1856M39 574.5H42M1849 574.5H1853M39 572.5H42M1849 572.5H1853M39 569.5H42M1849 569.5H1853M39 567.5H42M1849 567.5H1853M36 565.5H42M1849 565.5H1856M39 562.5H42M1849 562.5H1853M39 560.5H42M1849 560.5H1853M39 558.5H42M1849 558.5H1853M39 555.5H42M1849 555.5H1853M36 553.5H42M1849 553.5H1856M39 551.5H42M1849 551.5H1853M39 548.5H42M1849 548.5H1853M39 546.5H42M1849 546.5H1853M39 544.5H42M1849 544.5H1853M36 541.5H42M1849 541.5H1856M39 539.5H42M1849 539.5H1853M39 537.5H42M1849 537.5H1853M39 534.5H42M1849 534.5H1853M39 532.5H42M1849 532.5H1853M36 530.5H42M1849 530.5H1856M39 527.5H42M1849 527.5H1853M39 525.5H42M1849 525.5H1853M39 523.5H42M1849 523.5H1853M39 520.5H42M1849 520.5H1853M36 518.5H42M1849 518.5H1856M39 516.5H42M1849 516.5H1853M39 513.5H42M1849 513.5H1853M39 511.5H42M1849 511.5H1853M39 509.5H42M1849 509.5H1853M36 506.5H42M1849 506.5H1856M39 504.5H42M1849 504.5H1853M39 502.5H42M1849 502.5H1853M39 499.5H42M1849 499.5H1853M39 497.5H42M1849 497.5H1853M36 494.5H42M1849 494.5H1856M39 492.5H42M1849 492.5H1853M39 490.5H42M1849 490.5H1853M39 487.5H42M1849 487.5H1853M39 485.5H42M1849 485.5H1853M36 483.5H42M1849 483.5H1856M39 480.5H42M1849 480.5H1853M39 478.5H42M1849 478.5H1853M39 476.5H42M1849 476.5H1853M39 473.5H42M1849 473.5H1853M36 471.5H42M1849 471.5H1856M39 469.5H42M1849 469.5H1853M39 466.5H42M1849 466.5H1853M39 464.5H42M1849 464.5H1853M39 462.5H42M1849 462.5H1853M36 459.5H42M1849 459.5H1856M39 457.5H42M1849 457.5H1853M39 455.5H42M1849 455.5H1853M39 452.5H42M1849 452.5H1853M39 450.5H42M1849 450.5H1853M36 448.5H42M1849 448.5H1856M39 445.5H42M1849 445.5H1853M39 443.5H42M1849 443.5H1853M39 441.5H42M1849 441.5H1853M39 438.5H42M1849 438.5H1853M36 436.5H42M1849 436.5H1856M39 434.5H42M1849 434.5H1853M39 431.5H42M1849 431.5H1853M39 429.5H42M1849 429.5H1853M39 427.5H42M1849 427.5H1853M36 424.5H42M1849 424.5H1856M39 422.5H42M1849 422.5H1853M39 420.5H42M1849 420.5H1853M39 417.5H42M1849 417.5H1853M39 415.5H42M1849 415.5H1853M36 413.5H42M1849 413.5H1856M39 410.5H42M1849 410.5H1853M39 408.5H42M1849 408.5H1853M39 406.5H42M1849 406.5H1853M39 403.5H42M1849 403.5H1853M36 401.5H42M1849 401.5H1856M39 399.5H42M1849 399.5H1853M39 396.5H42M1849 396.5H1853M39 394.5H42M1849 394.5H1853M39 392.5H42M1849 392.5H1853M36 389.5H42M1849 389.5H1856M39 387.5H42M1849 387.5H1853M39 385.5H42M1849 385.5H1853M39 382.5H42M1849 382.5H1853M39 380.5H42M1849 380.5H1853M36 378.5H42M1849 378.5H1856M39 375.5H42M1849 375.5H1853M39 373.5H42M1849 373.5H1853M39 371.5H42M1849 371.5H1853M39 368.5H42M1849 368.5H1853M36 366.5H42M1849 366.5H1856M39 364.5H42M1849 364.5H1853M39 361.5H42M1849 361.5H1853M39 359.5H42M1849 359.5H1853M39 356.5H42M1849 356.5H1853M36 354.5H42M1849 354.5H1856M39 352.5H42M1849 352.5H1853M39 349.5H42M1849 349.5H1853M39 347.5H42M1849 347.5H1853M39 345.5H42M1849 345.5H1853M36 342.5H42M1849 342.5H1856M39 340.5H42M1849 340.5H1853M39 338.5H42M1849 338.5H1853M39 335.5H42M1849 335.5H1853M39 333.5H42M1849 333.5H1853M36 331.5H42M1849 331.5H1856M39 328.5H42M1849 328.5H1853M39 326.5H42M1849 326.5H1853M39 324.5H42M1849 324.5H1853M39 321.5H42M1849 321.5H1853M36 319.5H42M1849 319.5H1856M39 317.5H42M1849 317.5H1853M39 314.5H42M1849 314.5H1853M39 312.5H42M1849 312.5H1853M39 310.5H42M1849 310.5H1853M36 307.5H42M1849 307.5H1856M39 305.5H42M1849 305.5H1853M39 303.5H42M1849 303.5H1853M39 300.5H42M1849 300.5H1853M39 298.5H42M1849 298.5H1853M36 296.5H42M1849 296.5H1856M39 293.5H42M1849 293.5H1853M39 291.5H42M1849 291.5H1853M39 289.5H42M1849 289.5H1853M39 286.5H42M1849 286.5H1853M36 284.5H42M1849 284.5H1856M39 282.5H42M1849 282.5H1853M39 279.5H42M1849 279.5H1853M39 277.5H42M1849 277.5H1853M39 275.5H42M1849 275.5H1853M36 272.5H42M1849 272.5H1856M39 270.5H42M1849 270.5H1853M39 268.5H42M1849 268.5H1853M39 265.5H42M1849 265.5H1853M39 263.5H42M1849 263.5H1853M36 261.5H42M1849 261.5H1856M39 258.5H42M1849 258.5H1853M39 256.5H42M1849 256.5H1853M39 254.5H42M1849 254.5H1853M39 251.5H42M1849 251.5H1853M36 249.5H42M1849 249.5H1856M39 247.5H42M1849 247.5H1853M39 244.5H42M1849 244.5H1853M39 242.5H42M1849 242.5H1853M39 240.5H42M1849 240.5H1853M36 237.5H42M1849 237.5H1856M39 235.5H42M1849 235.5H1853M39 233.5H42M1849 233.5H1853M39 230.5H42M1849 230.5H1853M39 228.5H42M1849 228.5H1853M36 226.5H42M1849 226.5H1856M39 223.5H42M1849 223.5H1853M39 221.5H42M1849 221.5H1853M39 218.5H42M1849 218.5H1853M39 216.5H42M1849 216.5H1853M36 214.5H42M1849 214.5H1856M39 211.5H42M1849 211.5H1853M39 209.5H42M1849 209.5H1853M39 207.5H42M1849 207.5H1853M39 204.5H42M1849 204.5H1853M36 202.5H42M1849 202.5H1856M39 200.5H42M1849 200.5H1853M39 197.5H42M1849 197.5H1853M39 195.5H42M1849 195.5H1853M39 193.5H42M1849 193.5H1853M36 190.5H42M1849 190.5H1856M39 188.5H42M1849 188.5H1853M39 186.5H42M1849 186.5H1853M39 183.5H42M1849 183.5H1853M39 181.5H42M1849 181.5H1853M36 179.5H42M1849 179.5H1856M39 176.5H42M1849 176.5H1853M39 174.5H42M1849 174.5H1853M39 172.5H42M1849 172.5H1853M39 169.5H42M1849 169.5H1853M36 167.5H42M1849 167.5H1856M39 165.5H42M1849 165.5H1853M39 162.5H42M1849 162.5H1853M39 160.5H42M1849 160.5H1853M39 158.5H42M1849 158.5H1853M36 155.5H42M1849 155.5H1856M39 153.5H42M1849 153.5H1853M39 151.5H42M1849 151.5H1853M39 148.5H42M1849 148.5H1853M39 146.5H42M1849 146.5H1853M36 144.5H42M1849 144.5H1856M39 141.5H42M1849 141.5H1853M39 139.5H42M1849 139.5H1853M39 137.5H42M1849 137.5H1853M39 134.5H42M1849 134.5H1853M36 132.5H42M1849 132.5H1856M39 130.5H42M1849 130.5H1853M39 127.5H42M1849 127.5H1853M39 125.5H42M1849 125.5H1853M39 123.5H42M1849 123.5H1853M36 120.5H42M1849 120.5H1856M39 118.5H42M1849 118.5H1853M39 116.5H42M1849 116.5H1853M39 113.5H42M1849 113.5H1853M39 111.5H42M1849 111.5H1853M36 109.5H42M1849 109.5H1856M39 106.5H42M1849 106.5H1853M39 104.5H42M1849 104.5H1853M39 102.5H42M1849 102.5H1853M39 99.5H42M1849 99.5H1853M36 97.5H42M1849 97.5H1856M39 95.5H42M1849 95.5H1853M39 92.5H42M1849 92.5H1853M39 90.5H42M1849 90.5H1853M39 88.5H42M1849 88.5H1853M36 85.5H42M1849 85.5H1856M39 83.5H42M1849 83.5H1853M39 80.5H42M1849 80.5H1853M39 78.5H42M1849 78.5H1853M39 76.5H42M1849 76.5H1853M36 73.5H42M1849 73.5H1856M39 71.5H42M1849 71.5H1853M39 69.5H42M1849 69.5H1853M39 66.5H42M1849 66.5H1853M39 64.5H42M1849 64.5H1853M36 62.5H42M1849 62.5H1856M39 59.5H42M1849 59.5H1853M39 57.5H42M1849 57.5H1853M39 55.5H42M1849 55.5H1853M39 52.5H42M1849 52.5H1853M36 50.5H42M1849 50.5H1856M39 48.5H42M1849 48.5H1853M39 45.5H42M1849 45.5H1853M39 43.5H42M1849 43.5H1853M39 41.5H42M1849 41.5H1853M36 38.5H42M1849 38.5H1856M39 36.5H42M1849 36.5H1853M39 34.5H42M1849 34.5H1853M39 31.5H42M1849 31.5H1853M39 29.5H42M1849 29.5H1853M36 27.5H42M1849 27.5H1856M39 24.5H42M1849 24.5H1853M39 22.5H42M1849 22.5H1853M39 20.5H42M1849 20.5H1853M39 17.5H42M1849 17.5H1853M36 15.5H42M1849 15.5H1856M39 13.5H42M1849 13.5H1853M39 10.5H42M1849 10.5H1853M39 8.5H42M1849 8.5H1853M39 6.5H42M1849 6.5H1853M36 3.5H42M1849 3.5H1856M39 1.5H42M1849 1.5H1853M39 870.5H42M36 860.5H42M39 850.5H42M36 840.5H42M39 830.5H42M36 820.5H42M39 810.5H42M36 800.5H42M39 790.5H42M36 780.5H42M39 770.5H42M36 760.5H42M39 750.5H42M36 740.5H42M39 730.5H42M36 720.5H42M39 710.5H42M36 700.5H42M39 690.5H42M36 680.5H42M39 670.5H42M36 660.5H42M39 650.5H42M1849 862.5H1856M1849 858.5H1853M1849 854.5H1853M1849 849.5H1853M1849 845.5H1853M1849 841.5H1856M1849 837.5H1853M1849 833.5H1853M1849 829.5H1853M1849 825.5H1853M1849 820.5H1856M1849 816.5H1853M1849 812.5H1853M1849 808.5H1853M1849 804.5H1853M1849 800.5H1856M1849 796.5H1853M1849 791.5H1853M1849 787.5H1853M1849 783.5H1853M1849 779.5H1856M1849 775.5H1853M1849 771.5H1853M1849 767.5H1853M1849 762.5H1853M1849 758.5H1856M1849 754.5H1853M1849 750.5H1853M1849 746.5H1853M1849 742.5H1853M1849 738.5H1856M1849 733.5H1853M1849 729.5H1853M1849 725.5H1853M1849 721.5H1853M1849 717.5H1856M1849 713.5H1853M1849 709.5H1853M1849 705.5H1853M1849 700.5H1853M1849 696.5H1856M1849 692.5H1853M1849 688.5H1853M1849 684.5H1853M1849 680.5H1853M1849 676.5H1856M1849 671.5H1853M1849 667.5H1853M1849 663.5H1853M1849 659.5H1853M1849 655.5H1856M1849 651.5H1853M1849 647.5H1853" stroke="#000" stroke-width="1" fill="none"/>
<g font-family="Liberation Sans, Arial, sans-serif" font-size="10" fill="#000" stroke="#000" stroke-width="0.25"><text x="32" y="640.0" text-anchor="end">2.5</text><text x="1887.5" y="640.0" text-anchor="end">2.5</text><text x="32" y="628.0" text-anchor="end">3.0</text><text x="1887.5" y="628.0" text-anchor="end">3.0</text><text x="32" y="616.0" text-anchor="end">3.5</text><text x="1887.5" y="616.0" text-anchor="end">3.5</text><text x="32" y="605.0" text-anchor="end">4.0</text><text x="1887.5" y="605.0" text-anchor="end">4.0</text><text x="32" y="593.0" text-anchor="end">4.5</text><text x="1887.5" y="593.0" text-anchor="end">4.5</text><text x="32" y="581.0" text-anchor="end">5.0</text><text x="1887.5" y="581.0" text-anchor="end">5.0</text><text x="32" y="570.0" text-anchor="end">5.5</text><text x="1887.5" y="570.0" text-anchor="end">5.5</text><text x="32" y="558.0" text-anchor="end">6.0</text><text x="1887.5" y="558.0" text-anchor="end">6.0</text><text x="32" y="546.0" text-anchor="end">6.5</text><text x="1887.5" y="546.0" text-anchor="end">6.5</text><text x="32" y="535.0" text-anchor="end">7.0</text><text x="1887.5" y="535.0" text-anchor="end">7.0</text><text x="32" y="523.0" text-anchor="end">7.5</text><text x="1887.5" y="523.0" text-anchor="end">7.5</text><text x="32" y="511.0" text-anchor="end">8.0</text><text x="1887.5" y="511.0" text-anchor="end">8.0</text><text x="32" y="499.0" text-anchor="end">8.5</text><text x="1887.5" y="499.0" text-anchor="end">8.5</text><text x="32" y="488.0" text-anchor="end">9.0</text><text x="1887.5" y="488.0" text-anchor="end">9.0</text><text x="32" y="476.0" text-anchor="end">9.5</text><text x="1887.5" y="476.0" text-anchor="end">9.5</text><text x="32" y="464.0" text-anchor="end">10.0</text><text x="1887.5" y="464.0" text-anchor="end">10.0</text><text x="32" y="453.0" text-anchor="end">10.5</text><text x="1887.5" y="453.0" text-anchor="end">10.5</text><text x="32" y="441.0" text-anchor="end">11.0</text><text x="1887.5" y="441.0" text-anchor="end">11.0</text><text x="32" y="429.0" text-anchor="end">11.5</text><text x="1887.5" y="429.0" text-anchor="end">11.5</text><text x="32" y="418.0" text-anchor="end">12.0</text><text x="1887.5" y="418.0" text-anchor="end">12.0</text><text x="32" y="406.0" text-anchor="end">12.5</text><text x="1887.5" y="406.0" text-anchor="end">12.5</text><text x="32" y="394.0" text-anchor="end">13.0</text><text x="1887.5" y="394.0" text-anchor="end">13.0</text><text x="32" y="383.0" text-anchor="end">13.5</text><text x="1887.5" y="383.0" text-anchor="end">13.5</text><text x="32" y="371.0" text-anchor="end">14.0</text><text x="1887.5" y="371.0" text-anchor="end">14.0</text><text x="32" y="359.0" text-anchor="end">14.5</text><text x="1887.5" y="359.0" text-anchor="end">14.5</text><text x="32" y="347.0" text-anchor="end">15.0</text><text x="1887.5" y="347.0" text-anchor="end">15.0</text><text x="32" y="336.0" text-anchor="end">15.5</text><text x="1887.5" y="336.0" text-anchor="end">15.5</text><text x="32" y="324.0" text-anchor="end">16.0</text><text x="1887.5" y="324.0" text-anchor="end">16.0</text><text x="32" y="312.0" text-anchor="end">16.5</text><text x="1887.5" y="312.0" text-anchor="end">16.5</text><text x="32" y="301.0" text-anchor="end">17.0</text><text x="1887.5" y="301.0" text-anchor="end">17.0</text><text x="32" y="289.0" text-anchor="end">17.5</text><text x="1887.5" y="289.0" text-anchor="end">17.5</text><text x="32" y="277.0" text-anchor="end">18.0</text><text x="1887.5" y="277.0" text-anchor="end">18.0</text><text x="32" y="266.0" text-anchor="end">18.5</text><text x="1887.5" y="266.0" text-anchor="end">18.5</text><text x="32" y="254.0" text-anchor="end">19.0</text><text x="1887.5" y="254.0" text-anchor="end">19.0</text><text x="32" y="242.0" text-anchor="end">19.5</text><text x="1887.5" y="242.0" text-anchor="end">19.5</text><text x="32" y="231.0" text-anchor="end">20.0</text><text x="1887.5" y="231.0" text-anchor="end">20.0</text><text x="32" y="219.0" text-anchor="end">20.5</text><text x="1887.5" y="219.0" text-anchor="end">20.5</text><text x="32" y="207.0" text-anchor="end">21.0</text><text x="1887.5" y="207.0" text-anchor="end">21.0</text><text x="32" y="195.0" text-anchor="end">21.5</text><text x="1887.5" y="195.0" text-anchor="end">21.5</text><text x="32" y="184.0" text-anchor="end">22.0</text><text x="1887.5" y="184.0" text-anchor="end">22.0</text><text x="32" y="172.0" text-anchor="end">22.5</text><text x="1887.5" y="172.0" text-anchor="end">22.5</text><text x="32" y="160.0" text-anchor="end">23.0</text><text x="1887.5" y="160.0" text-anchor="end">23.0</text><text x="32" y="149.0" text-anchor="end">23.5</text><text x="1887.5" y="149.0" text-anchor="end">23.5</text><text x="32" y="137.0" text-anchor="end">24.0</text><text x="1887.5" y="137.0" text-anchor="end">24.0</text><text x="32" y="125.0" text-anchor="end">24.5</text><text x="1887.5" y="125.0" text-anchor="end">24.5</text><text x="32" y="114.0" text-anchor="end">25.0</text><text x="1887.5" y="114.0" text-anchor="end">25.0</text><text x="32" y="102.0" text-anchor="end">25.5</text><text x="1887.5" y="102.0" text-anchor="end">25.5</text><text x="32" y="90.0" text-anchor="end">26.0</text><text x="1887.5" y="90.0" text-anchor="end">26.0</text><text x="32" y="78.0" text-anchor="end">26.5</text><text x="1887.5" y="78.0" text-anchor="end">26.5</text><text x="32" y="67.0" text-anchor="end">27.0</text><text x="1887.5" y="67.0" text-anchor="end">27.0</text><text x="32" y="55.0" text-anchor="end">27.5</text><text x="1887.5" y="55.0" text-anchor="end">27.5</text><text x="32" y="43.0" text-anchor="end">28.0</text><text x="1887.5" y="43.0" text-anchor="end">28.0</text><text x="32" y="32.0" text-anchor="end">28.5</text><text x="1887.5" y="32.0" text-anchor="end">28.5</text><text x="32" y="20.0" text-anchor="end">29.0</text><text x="1887.5" y="20.0" text-anchor="end">29.0</text><text x="32" y="865.0" text-anchor="end">0</text><text x="32" y="845.0" text-anchor="end">10</text><text x="32" y="825.0" text-anchor="end">20</text><text x="32" y="805.0" text-anchor="end">30</text><text x="32" y="785.0" text-anchor="end">40</text><text x="32" y="765.0" text-anchor="end">50</text><text x="32" y="745.0" text-anchor="end">60</text><text x="32" y="725.0" text-anchor="end">70</text><text x="32" y="705.0" text-anchor="end">80</text><text x="32" y="685.0" text-anchor="end">90</text><text x="32" y="665.0" text-anchor="end">100</text><text x="1887.5" y="867.0" text-anchor="end">5000</text><text x="1887.5" y="846.0" text-anchor="end">10000</text><text x="1887.5" y="825.0" text-anchor="end">15000</text><text x="1887.5" y="805.0" text-anchor="end">20000</text><text x="1887.5" y="784.0" text-anchor="end">25000</text><text x="1887.5" y="763.0" text-anchor="end">30000</text><text x="1887.5" y="743.0" text-anchor="end">35000</text><text x="1887.5" y="722.0" text-anchor="end">40000</text><text x="1887.5" y="701.0" text-anchor="end">45000</text><text x="1887.5" y="681.0" text-anchor="end">50000</text><text x="1887.5" y="660.0" text-anchor="end">55000</text></g>
<path d="M1849 866.5H1871M1851.5 866V877M1870.5 866V877" stroke="#000" fill="none"/>
<text x="1852" y="875" font-family="Liberation Sans, Arial, sans-serif" font-size="8" fill="#808080">x100</text>
<defs><clipPath id="dc"><rect x="42" y="878" width="1807" height="24"/></clipPath></defs>
<g clip-path="url(#dc)" font-family="Liberation Sans, Arial, sans-serif" font-size="10" fill="#000" stroke="#000" stroke-width="0.25"><text x="31" y="887.5">1</text><text x="55" y="887.5">8</text><text x="80" y="887.5">15</text><text x="104" y="887.5">22</text><text x="128" y="887.5">29</text><text x="153" y="887.5">5</text><text x="177" y="887.5">12</text><text x="197" y="887.5">19</text><text x="221" y="887.5">26</text><text x="245" y="887.5">2</text><text x="270" y="887.5">9</text><text x="294" y="887.5">17</text><text x="313" y="887.5">23</text><text x="338" y="887.5">30</text><text x="362" y="887.5">7</text><text x="386" y="887.5">14</text><text x="411" y="887.5">21</text><text x="435" y="887.5">28</text><text x="459" y="887.5">4</text><text x="484" y="887.5">11</text><text x="509" y="887.5">18</text><text x="532" y="887.5">25</text><text x="557" y="887.5">2</text><text x="582" y="887.5">9</text><text x="605" y="887.5">16</text><text x="630" y="887.5">23</text><text x="655" y="887.5">6</text><text x="678" y="887.5">13</text><text x="703" y="887.5">20</text><text x="728" y="887.5">27</text><text x="752" y="887.5">3</text><text x="776" y="887.5">10</text><text x="801" y="887.5">17</text><text x="825" y="887.5">24</text><text x="849" y="887.5">3</text><text x="874" y="887.5">10</text><text x="898" y="887.5">17</text><text x="922" y="887.5">24</text><text x="947" y="887.5">31</text><text x="971" y="887.5">7</text><text x="995" y="887.5">14</text><text x="1015" y="887.5">22</text><text x="1034" y="887.5">28</text><text x="1054" y="887.5">5</text><text x="1078" y="887.5">12</text><text x="1103" y="887.5">19</text><text x="1127" y="887.5">26</text><text x="1151" y="887.5">2</text><text x="1176" y="887.5">9</text><text x="1200" y="887.5">16</text><text x="1224" y="887.5">23</text><text x="1248" y="887.5">30</text><text x="1273" y="887.5">7</text><text x="1298" y="887.5">14</text><text x="1321" y="887.5">21</text><text x="1346" y="887.5">28</text><text x="1371" y="887.5">4</text><text x="1394" y="887.5">11</text><text x="1414" y="887.5">18</text><text x="1439" y="887.5">25</text><text x="1463" y="887.5">1</text><text x="1487" y="887.5">8</text><text x="1512" y="887.5">15</text><text x="1536" y="887.5">22</text><text x="1560" y="887.5">29</text><text x="1585" y="887.5">6</text><text x="1610" y="887.5">13</text><text x="1633" y="887.5">20</text><text x="1658" y="887.5">27</text><text x="1682" y="887.5">3</text><text x="1706" y="887.5">10</text><text x="1731" y="887.5">17</text><text x="1755" y="887.5">24</text><text x="1779" y="887.5">1</text><text x="1804" y="887.5">8</text><text x="1828" y="887.5">15</text><text x="31" y="900.5">July</text><text x="143" y="900.5">August</text><text x="245" y="900.5">September</text><text x="343" y="900.5">October</text><text x="454" y="900.5">November</text><text x="557" y="900.5">December</text><text x="645" y="900.5">2025</text><text x="752" y="900.5">February</text><text x="849" y="900.5">March</text><text x="952" y="900.5">April</text><text x="1049" y="900.5">May</text><text x="1151" y="900.5">June</text><text x="1253" y="900.5">July</text><text x="1366" y="900.5">August</text><text x="1463" y="900.5">September</text><text x="1570" y="900.5">October</text><text x="1682" y="900.5">November</text><text x="1779" y="900.5">December</text></g>
<path d="M53.5 877V890M78.5 877V890M102.5 877V890M126.5 877V890M151.5 877V890M175.5 877V890M195.5 877V890M219.5 877V890M243.5 877V890M268.5 877V890M292.5 877V890M311.5 877V890M336.5 877V890M360.5 877V890M384.5 877V890M409.5 877V890M433.5 877V890M457.5 877V890M482.5 877V890M507.5 877V890M530.5 877V890M555.5 877V890M580.5 877V890M603.5 877V890M628.5 877V890M638.5 877V890M653.5 877V890M676.5 877V890M701.5 877V890M726.5 877V890M750.5 877V890M774.5 877V890M799.5 877V890M823.5 877V890M847.5 877V890M872.5 877V890M896.5 877V890M920.5 877V890M945.5 877V890M969.5 877V890M993.5 877V890M1013.5 877V890M1032.5 877V890M1052.5 877V890M1076.5 877V890M1101.5 877V890M1125.5 877V890M1149.5 877V890M1174.5 877V890M1198.5 877V890M1222.5 877V890M1246.5 877V890M1271.5 877V890M1296.5 877V890M1319.5 877V890M1344.5 877V890M1369.5 877V890M1392.5 877V890M1412.5 877V890M1437.5 877V890M1461.5 877V890M1485.5 877V890M1510.5 877V890M1534.5 877V890M1558.5 877V890M1583.5 877V890M1608.5 877V890M1631.5 877V890M1656.5 877V890M1680.5 877V890M1704.5 877V890M1729.5 877V890M1753.5 877V890M1777.5 877V890M1802.5 877V890M1826.5 877V890M141.5 877V902M243.5 877V902M341.5 877V902M452.5 877V902M555.5 877V902M643.5 877V902M750.5 877V902M847.5 877V902M950.5 877V902M1047.5 877V902M1149.5 877V902M1251.5 877V902M1364.5 877V902M1461.5 877V902M1568.5 877V902M1680.5 877V902M1777.5 877V902" stroke="#000" fill="none"/>
<rect x="461" y="73" width="486" height="111" fill="#f4fff4" stroke="#000" stroke-width="2"/>
<g font-family="Liberation Sans, Arial, sans-serif" font-size="15.8" font-weight="bold" fill="#000"><text x="464" y="86.5">Small white sui 17,16 per Fincantieri che prosegue nel</text><text x="464" y="105.4">rimbalzo. Sono fuori e non forzo l'operatività in questo contesto</text><text x="464" y="124.3">anche se il titolo ha la possibilità di proseguire verso i 17,5-17,6</text><text x="464" y="143.1">in primo recupero.</text><text x="464" y="162.0">Il trend per ora rimane negativo e ci vorrà un pattern</text><text x="464" y="180.9">forte per farci impostare il buy.</text></g>
</svg>
</body></html>
